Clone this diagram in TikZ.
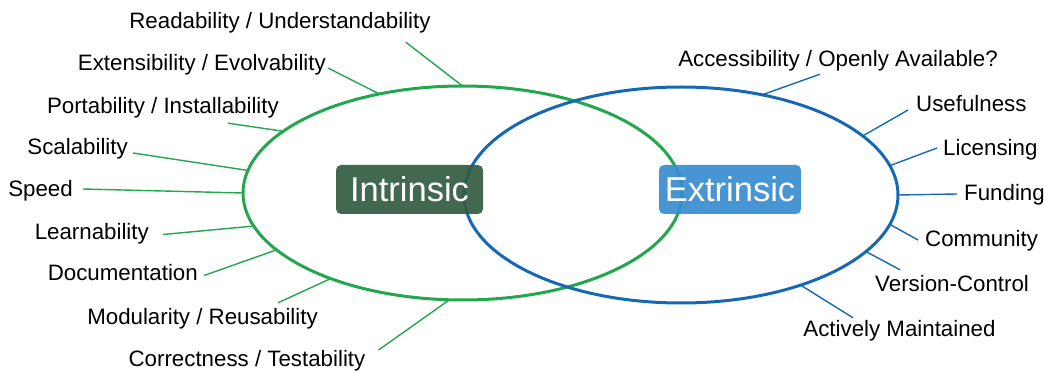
\documentclass[tikz,border=0pt]{standalone}
\usepackage{fontspec}
\setmainfont{Liberation Sans}
\usetikzlibrary{shapes.geometric}
\definecolor{ringgreen}{RGB}{34,166,78}
\definecolor{ringblue}{RGB}{22,104,180}
\definecolor{boxgreen}{RGB}{50,92,64}
\definecolor{boxblue}{RGB}{56,140,208}
\tikzset{
  ring/.style={ellipse, draw, line width=3pt, inner sep=0pt, outer sep=0pt},
  quality/.style={inner sep=0pt, text height=16pt, text depth=5pt, font=\fontsize{22.3}{26}\selectfont},
  tag/.style={rounded corners=5pt, fill opacity=0.92, text opacity=1, text=white,
    minimum height=49pt, inner sep=0pt, font=\fontsize{34.5}{40}\selectfont},
  gline/.style={ringgreen, line width=1.4pt},
  bline/.style={ringblue, line width=1.4pt}
}
\begin{document}
\begin{tikzpicture}[x=1pt,y=-1pt]
  \useasboundingbox (0,0) rectangle (1044,371);

  % the two sets
  \node (green) [ring, draw=ringgreen, minimum width=439pt, minimum height=214pt] at (462.5,193) {};
  \node (blue) [ring, draw=ringblue, minimum width=434pt, minimum height=216pt] at (681,195) {};

  \node (intr) [tag, fill=boxgreen, minimum width=147pt] at (409.5,189.5) {Intrinsic};
  \node (extr) [tag, fill=boxblue, minimum width=142pt] at (730,189.5) {Extrinsic};

  % intrinsic qualities
  \node (read)  [quality, anchor=base]      at (280,29)  {Readability / Understandability};
  \node (ext)   [quality, anchor=base east] at (326,71)  {Extensibility / Evolvability};
  \node (port)  [quality, anchor=base east] at (279,114) {Portability / Installability};
  \node (scal)  [quality, anchor=base east] at (128,155) {Scalability};
  \node (speed) [quality, anchor=base east] at (73,197)  {Speed};
  \node (learn) [quality, anchor=base east] at (149,240) {Learnability};
  \node (doc)   [quality, anchor=base east] at (198,281) {Documentation};
  \node (mod)   [quality, anchor=base east] at (318,324) {Modularity / Reusability};
  \node (corr)  [quality, anchor=base]      at (247,366) {Correctness / Testability};

  % extrinsic qualities
  \node (acc)  [quality, anchor=base]      at (838,67)  {Accessibility / Openly Available?};
  \node (use)  [quality, anchor=base west] at (916,112) {Usefulness};
  \node (lic)  [quality, anchor=base west] at (943,156) {Licensing};
  \node (fund) [quality, anchor=base west] at (964,201) {Funding};
  \node (comm) [quality, anchor=base west] at (925,247) {Community};
  \node (vers) [quality, anchor=base west] at (875,292) {Version-Control};
  \node (act)  [quality, anchor=base]      at (899.5,336) {Actively Maintained};

  \draw [gline] ([xshift=-25pt,yshift=-8pt]read.south east) -- (green.90);
  \draw [gline] ([xshift=2pt,yshift=-2.5pt]ext.east) -- (green.130.3);
  \draw [gline] ([xshift=-51pt,yshift=-4pt]port.south east) -- (green.161.3);
  \draw [gline] ([xshift=5pt,yshift=-3.5pt]scal.east) -- (green.174.4);
  \draw [gline] ([xshift=10pt,yshift=2.5pt]speed.east) -- (green.180.5);
  \draw [gline] ([xshift=14pt]learn.east) -- (green.189.5);
  \draw [gline] ([xshift=6pt]doc.east) -- (green.197.7);
  \draw [gline] ([xshift=-40pt,yshift=5pt]mod.north east) -- (green.213.5);
  \draw [gline] ([xshift=13pt,yshift=10.5pt]corr.east) -- (green.263.6);

  \draw [bline] ([xshift=-18pt,yshift=-2pt]acc.south) -- (blue.51.2);
  \draw [bline] ([xshift=-8pt,yshift=-3.5pt]use.west) -- (blue.18.8);
  \draw [bline] ([xshift=-6pt,yshift=2.5pt]lic.west) -- (blue.8.6);
  \draw [bline] ([xshift=-7pt,yshift=1.5pt]fund.west) -- (blue.0);
  \draw [bline] ([xshift=-7pt,yshift=1.5pt]comm.west) -- (blue.-8.6);
  \draw [bline] ([xshift=25pt,yshift=6pt]vers.north west) -- (blue.-17.6);
  \draw [bline] ([xshift=-46.5pt,yshift=2pt]act.north) -- (blue.-37.7);
\end{tikzpicture}
\end{document}
